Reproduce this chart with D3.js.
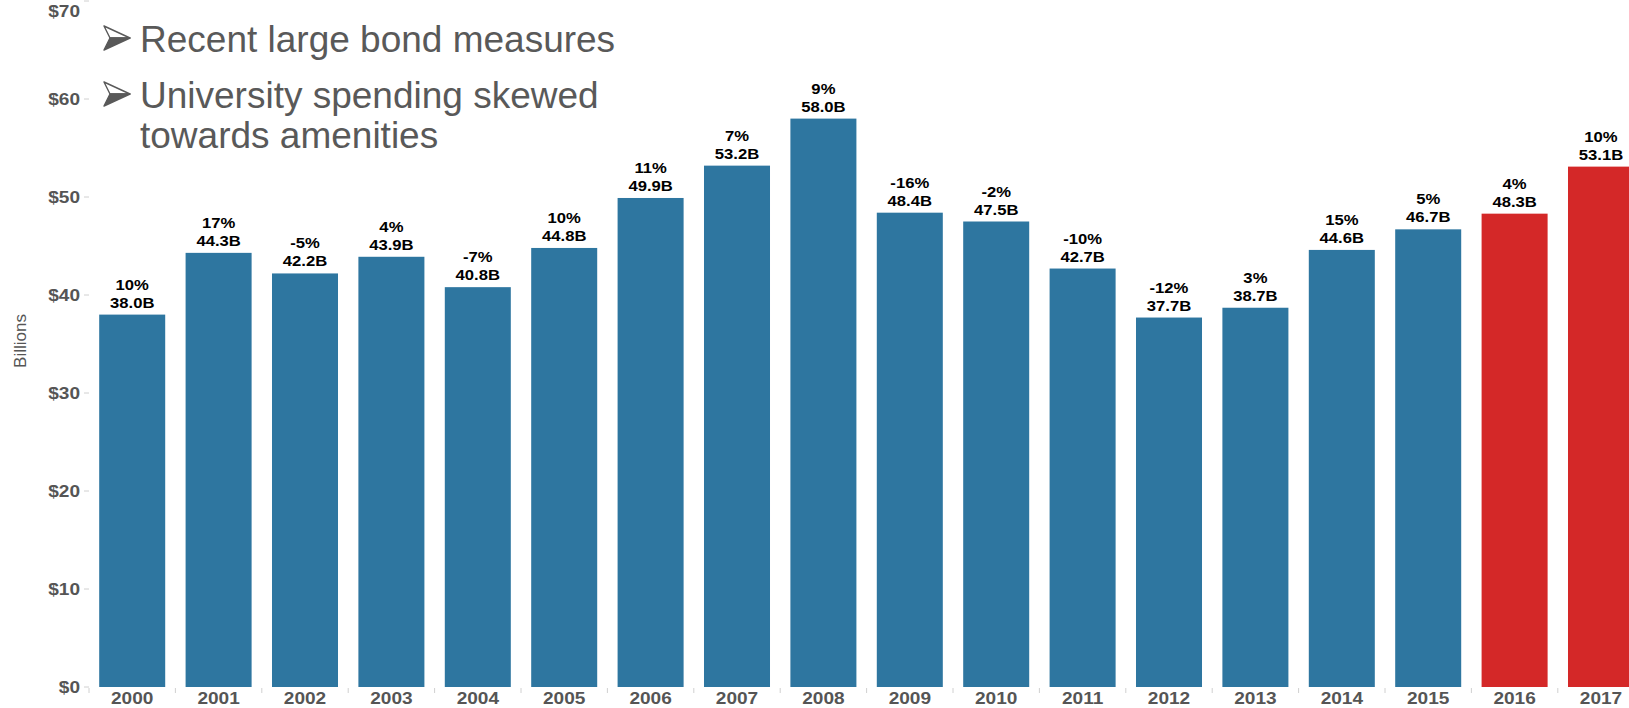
<!DOCTYPE html>
<html>
<head>
<meta charset="utf-8">
<script src="https://cdn.jsdelivr.net/npm/d3@7"></script>
<style>
  html, body { margin: 0; padding: 0; background: #fff; }
  svg { display: block; }
  text { font-family: "Liberation Sans", Arial, sans-serif; }
</style>
</head>
<body>
<svg id="chart" width="1629" height="708"></svg>
<script>
// Annual spending, billions of dollars, with year-over-year change
const years = ["2000","2001","2002","2003","2004","2005","2006","2007","2008",
               "2009","2010","2011","2012","2013","2014","2015","2016","2017"];
const spending = [38.0, 44.3, 42.2, 43.9, 40.8, 44.8, 49.9, 53.2, 58.0,
                  48.4, 47.5, 42.7, 37.7, 38.7, 44.6, 46.7, 48.3, 53.1];
const changePct = [10, 17, -5, 4, -7, 10, 11, 7, 9,
                   -16, -2, -10, -12, 3, 15, 5, 4, 10];
const highlighted = ["2016", "2017"];
const yTicks = [0, 10, 20, 30, 40, 50, 60, 70];
const bullets = [
  ["Recent large bond measures"],
  ["University spending skewed", "towards amenities"]
];

const svg = d3.select("#chart");
const blue = "#2E76A0", red = "#D42828", axisGray = "#555555";
const wide = "scale(1.19,1)";

const x = d3.scaleBand().domain(years).range([89, 89 + 18 * 86.4]).paddingInner(0.236).paddingOuter(0.118);
const y = d3.scaleLinear().domain([0, 70]).range([687, 1]);

// y axis: tick marks and dollar labels (top label kept inside the frame)
const yg = svg.append("g");
yg.selectAll("line").data(yTicks).join("line")
  .attr("x1", 84).attr("x2", 89)
  .attr("y1", d => y(d)).attr("y2", d => y(d))
  .attr("stroke", "#d0d0d0").attr("stroke-width", 1);
yg.selectAll("text").data(yTicks).join("text")
  .attr("transform", d => `translate(80,${Math.max(y(d) + 6, 17)}) ${wide}`)
  .attr("text-anchor", "end")
  .attr("font-size", 16).attr("font-weight", "bold")
  .attr("fill", axisGray)
  .text(d => "$" + d);

svg.append("text")
  .attr("transform", "translate(26,341) rotate(-90)")
  .attr("text-anchor", "middle")
  .attr("font-size", 17)
  .attr("fill", axisGray)
  .text("Billions");

// x axis: ticks between bands and year labels
const bounds = years.map(d => x(d) - x.step() * x.paddingInner() / 2);
svg.append("g").selectAll("line").data(bounds).join("line")
  .attr("x1", d => d).attr("x2", d => d)
  .attr("y1", 688).attr("y2", 693)
  .attr("stroke", "#d0d0d0");
svg.append("g").selectAll("text").data(years).join("text")
  .attr("transform", d => `translate(${x(d) + x.bandwidth() / 2},704) ${wide}`)
  .attr("text-anchor", "middle")
  .attr("font-size", 16).attr("font-weight", "bold")
  .attr("fill", axisGray)
  .text(d => d);

// bars
const data = years.map((yr, i) => ({ yr, v: spending[i], p: changePct[i] }));
svg.append("g").selectAll("rect").data(data).join("rect")
  .attr("x", d => x(d.yr))
  .attr("y", d => y(d.v))
  .attr("width", x.bandwidth())
  .attr("height", d => y(0) - y(d.v))
  .attr("fill", d => highlighted.includes(d.yr) ? red : blue);

// value labels: change percentage above total
const lbl = svg.append("g").selectAll("g").data(data).join("g");
lbl.append("text")
  .attr("transform", d => `translate(${x(d.yr) + x.bandwidth() / 2},${y(d.v) - 25}) ${wide}`)
  .attr("text-anchor", "middle")
  .attr("font-size", 14).attr("font-weight", "bold").attr("fill", "#000")
  .text(d => d.p + "%");
lbl.append("text")
  .attr("transform", d => `translate(${x(d.yr) + x.bandwidth() / 2},${y(d.v) - 7}) ${wide}`)
  .attr("text-anchor", "middle")
  .attr("font-size", 14).attr("font-weight", "bold").attr("fill", "#000")
  .text(d => d.v.toFixed(1) + "B");

// bullet notes in the upper left
const noteGray = "#595959";
const lineBase = [[52], [108, 148]];
bullets.forEach((lines, i) => {
  const b = lineBase[i][0];
  const g = svg.append("g").attr("transform", `translate(104,${b - 14})`);
  // arrowhead bullet: outlined upper half, filled lower half
  g.append("path")
    .attr("d", "M0,-12 L26,0 L6,0 Z")
    .attr("fill", "#fff").attr("stroke", noteGray).attr("stroke-width", 1.4)
    .attr("stroke-linejoin", "round");
  g.append("path")
    .attr("d", "M0,12 L26,0 L6,0 Z")
    .attr("fill", noteGray).attr("stroke", noteGray).attr("stroke-width", 1.4)
    .attr("stroke-linejoin", "round");
  lines.forEach((t, j) => {
    svg.append("text")
      .attr("x", 140).attr("y", lineBase[i][j])
      .attr("font-size", 37)
      .attr("fill", noteGray)
      .text(t);
  });
});
</script>
</body>
</html>
